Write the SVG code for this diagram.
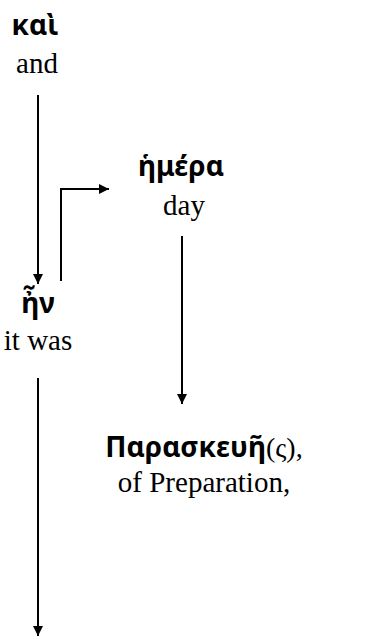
<svg xmlns="http://www.w3.org/2000/svg" width="366" height="639" viewBox="0 0 366 639">
  <defs>
    <style>
      .gk { font-family: "Noto Sans", "DejaVu Sans", sans-serif; font-weight: bold; font-size: 28px; fill: #000; text-anchor: middle; }
      .gkp { font-family: "Liberation Serif", "DejaVu Serif", serif; font-weight: normal; }
      .en { font-family: "Liberation Serif", "Times New Roman", serif; font-size: 29px; fill: #000; text-anchor: middle; }
      .conn { stroke: #000; stroke-width: 2; fill: none; }
    </style>
    <marker id="arrow" viewBox="0 0 10 10" refX="10" refY="5" markerWidth="10" markerHeight="10" markerUnits="userSpaceOnUse" orient="auto">
      <path d="M0,0 L10,5 L0,10 z" fill="#000"/>
    </marker>
  </defs>
  <rect width="366" height="639" fill="#fff"/>
  <g id="connectors">
    <line class="conn" x1="38" y1="95" x2="38" y2="284" marker-end="url(#arrow)"/>
    <polyline class="conn" points="61,281 61,189 109,189" marker-end="url(#arrow)"/>
    <line class="conn" x1="182" y1="236" x2="182" y2="404" marker-end="url(#arrow)"/>
    <line class="conn" x1="38" y1="378" x2="38" y2="636" marker-end="url(#arrow)"/>
  </g>
  <g id="node-kai">
    <text class="gk" x="35" y="35">καὶ</text>
    <text class="en" x="37" y="73">and</text>
  </g>
  <g id="node-hemera">
    <text class="gk" x="181" y="176">ἡμέρα</text>
    <text class="en" x="184" y="215">day</text>
  </g>
  <g id="node-en">
    <text class="gk" x="38" y="313">ἦν</text>
    <text class="en" x="38" y="350">it was</text>
  </g>
  <g id="node-paraskeue">
    <text class="gk" x="204" y="457">Παρασκευῆ<tspan class="gkp">(ς),</tspan></text>
    <text class="en" x="204" y="492">of Preparation,</text>
  </g>
</svg>
